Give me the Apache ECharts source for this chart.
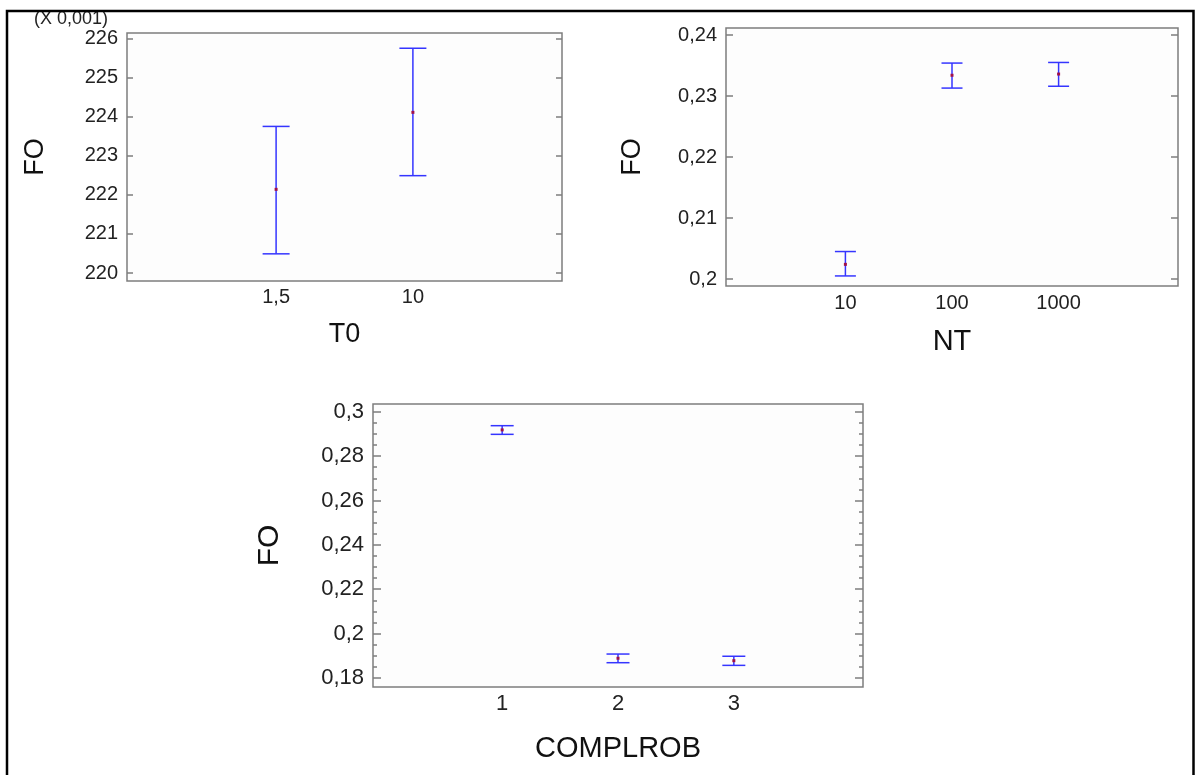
<!DOCTYPE html>
<html>
<head>
<meta charset="utf-8">
<script src="https://cdn.jsdelivr.net/npm/echarts@6/dist/echarts.min.js"></script>
<style>
html,body{margin:0;padding:0;background:#fff;}
#chart{width:1198px;height:775px;}
</style>
</head>
<body>
<div id="chart"></div>
<script>
// ---- Chart 1: FO vs T0 (values shown in units of 0.001) ----
const t0Categories = ['1,5', '10'];
const t0Mean  = [222.14, 224.11];
const t0Lower = [220.49, 222.49];
const t0Upper = [223.75, 225.75];
const t0Ticks = [220, 221, 222, 223, 224, 225, 226];

// ---- Chart 2: FO vs NT ----
const ntCategories = ['10', '100', '1000'];
const ntMean  = [0.2024, 0.2334, 0.2336];
const ntLower = [0.2005, 0.2313, 0.2316];
const ntUpper = [0.2045, 0.2354, 0.2355];
const ntTicks = [0.2, 0.21, 0.22, 0.23, 0.24];

// ---- Chart 3: FO vs COMPLROB ----
const crCategories = ['1', '2', '3'];
const crMean  = [0.2918, 0.1889, 0.1878];
const crLower = [0.2898, 0.1869, 0.1857];
const crUpper = [0.2937, 0.1908, 0.1898];
const crTicks = [0.18, 0.2, 0.22, 0.24, 0.26, 0.28, 0.3];
const crMinorTicks = [0.185, 0.19, 0.195, 0.205, 0.21, 0.215, 0.225, 0.23, 0.235,
  0.245, 0.25, 0.255, 0.265, 0.27, 0.275, 0.285, 0.29, 0.295];

const FONT = '"Liberation Sans", Arial, sans-serif';
const BOX = '#7d7d7d';
const BAR = '#3535ff';
const MEAN = '#a0104a';

function comma(v) { return String(+v.toFixed(6)).replace('.', ','); }

function buildData(lower, upper, mean) {
  return mean.map((m, i) => [i + 1, lower[i], upper[i], m]);
}

function errorRenderer(capHalf) {
  return function (params, api) {
    const x = api.value(0);
    const lo = api.coord([x, api.value(1)]);
    const hi = api.coord([x, api.value(2)]);
    const mid = api.coord([x, api.value(3)]);
    const st = { stroke: BAR, lineWidth: 1.5 };
    return {
      type: 'group',
      children: [
        { type: 'line', shape: { x1: lo[0], y1: lo[1], x2: hi[0], y2: hi[1] }, style: st },
        { type: 'line', shape: { x1: hi[0] - capHalf, y1: hi[1], x2: hi[0] + capHalf, y2: hi[1] }, style: st },
        { type: 'line', shape: { x1: lo[0] - capHalf, y1: lo[1], x2: lo[0] + capHalf, y2: lo[1] }, style: st },
        { type: 'rect', shape: { x: mid[0] - 1.5, y: mid[1] - 1.5, width: 3, height: 3 }, style: { fill: MEAN } }
      ]
    };
  };
}

function xAxisDef(gridIndex, cats, min, max, margin, fontSize, name, nameGap, nameSize) {
  return {
    type: 'value', gridIndex, min, max, position: 'bottom',
    axisLine: { show: false }, axisTick: { show: false }, splitLine: { show: false },
    axisLabel: {
      customValues: cats.map((c, i) => i + 1),
      formatter: v => cats[Math.round(v) - 1],
      color: '#222', fontFamily: FONT, fontSize, margin
    },
    name, nameLocation: 'middle', nameGap,
    nameTextStyle: { color: '#111', fontFamily: FONT, fontSize: nameSize }
  };
}

// axis carrying only the labels and the title
function yLabelAxis(gridIndex, min, max, ticks, fmt, fontSize, name, nameGap, nameSize) {
  return {
    type: 'value', gridIndex, min, max, position: 'left',
    axisLine: { show: false }, splitLine: { show: false }, axisTick: { show: false },
    axisLabel: { customValues: ticks, formatter: fmt, color: '#222', fontFamily: FONT, fontSize, margin: 9 },
    name, nameLocation: 'middle', nameGap, nameRotate: 90,
    nameTextStyle: { color: '#111', fontFamily: FONT, fontSize: nameSize }
  };
}

// axis carrying only inside tick marks
function yTickAxis(gridIndex, pos, min, max, ticks, tickLen) {
  return {
    type: 'value', gridIndex, min, max, position: pos,
    axisLine: { show: false }, splitLine: { show: false },
    axisTick: { show: true, inside: true, length: tickLen, customValues: ticks, lineStyle: { color: BOX, width: 1.5 } },
    axisLabel: { show: false }
  };
}

const gridStyle = { show: true, borderColor: BOX, borderWidth: 1.5, backgroundColor: '#fdfdfd' };

const option = {
  animation: false,
  backgroundColor: '#ffffff',
  grid: [
    Object.assign({ left: 127, top: 33, width: 435, height: 248 }, gridStyle),
    Object.assign({ left: 726, top: 28, width: 452, height: 258 }, gridStyle),
    Object.assign({ left: 373, top: 404, width: 490, height: 283 }, gridStyle)
  ],
  xAxis: [
    xAxisDef(0, t0Categories, -0.09, 3.09, 6, 20, 'T0', 40, 27),
    xAxisDef(1, ntCategories, -0.12, 4.12, 7, 20, 'NT', 41, 29),
    xAxisDef(2, crCategories, -0.115, 4.115, 6, 22, 'COMPLROB', 47, 29)
  ],
  yAxis: [
    yLabelAxis(0, 219.795, 226.14, t0Ticks, v => String(Math.round(v)), 20, 'FO', 78, 27),
    yTickAxis(0, 'left', 219.795, 226.14, t0Ticks, 6),
    yTickAxis(0, 'right', 219.795, 226.14, t0Ticks, 6),
    yLabelAxis(1, 0.19885, 0.24115, ntTicks, comma, 20, 'FO', 80, 27),
    yTickAxis(1, 'left', 0.19885, 0.24115, ntTicks, 7),
    yTickAxis(1, 'right', 0.19885, 0.24115, ntTicks, 7),
    yLabelAxis(2, 0.17595, 0.30347, crTicks, comma, 22, 'FO', 88, 30),
    yTickAxis(2, 'left', 0.17595, 0.30347, crTicks, 8),
    yTickAxis(2, 'right', 0.17595, 0.30347, crTicks, 8),
    yTickAxis(2, 'left', 0.17595, 0.30347, crMinorTicks, 4),
    yTickAxis(2, 'right', 0.17595, 0.30347, crMinorTicks, 4)
  ],
  graphic: [
    {
      type: 'text', left: 34, top: 10,
      style: { text: '(X 0,001)', fill: '#222', font: '18px ' + FONT }
    },
    {
      type: 'rect', silent: true,
      shape: { x: 7, y: 11, width: 1186.5, height: 800 },
      style: { fill: null, stroke: '#000', lineWidth: 2.5 }
    }
  ],
  series: [
    {
      type: 'custom', xAxisIndex: 0, yAxisIndex: 0,
      renderItem: errorRenderer(13.5),
      encode: { x: 0, y: [1, 2] },
      data: buildData(t0Lower, t0Upper, t0Mean)
    },
    {
      type: 'custom', xAxisIndex: 1, yAxisIndex: 3,
      renderItem: errorRenderer(10.5),
      encode: { x: 0, y: [1, 2] },
      data: buildData(ntLower, ntUpper, ntMean)
    },
    {
      type: 'custom', xAxisIndex: 2, yAxisIndex: 6,
      renderItem: errorRenderer(11.5),
      encode: { x: 0, y: [1, 2] },
      data: buildData(crLower, crUpper, crMean)
    }
  ]
};

const chart = echarts.init(document.getElementById('chart'), null, { renderer: 'canvas' });
chart.setOption(option);
</script>
</body>
</html>
